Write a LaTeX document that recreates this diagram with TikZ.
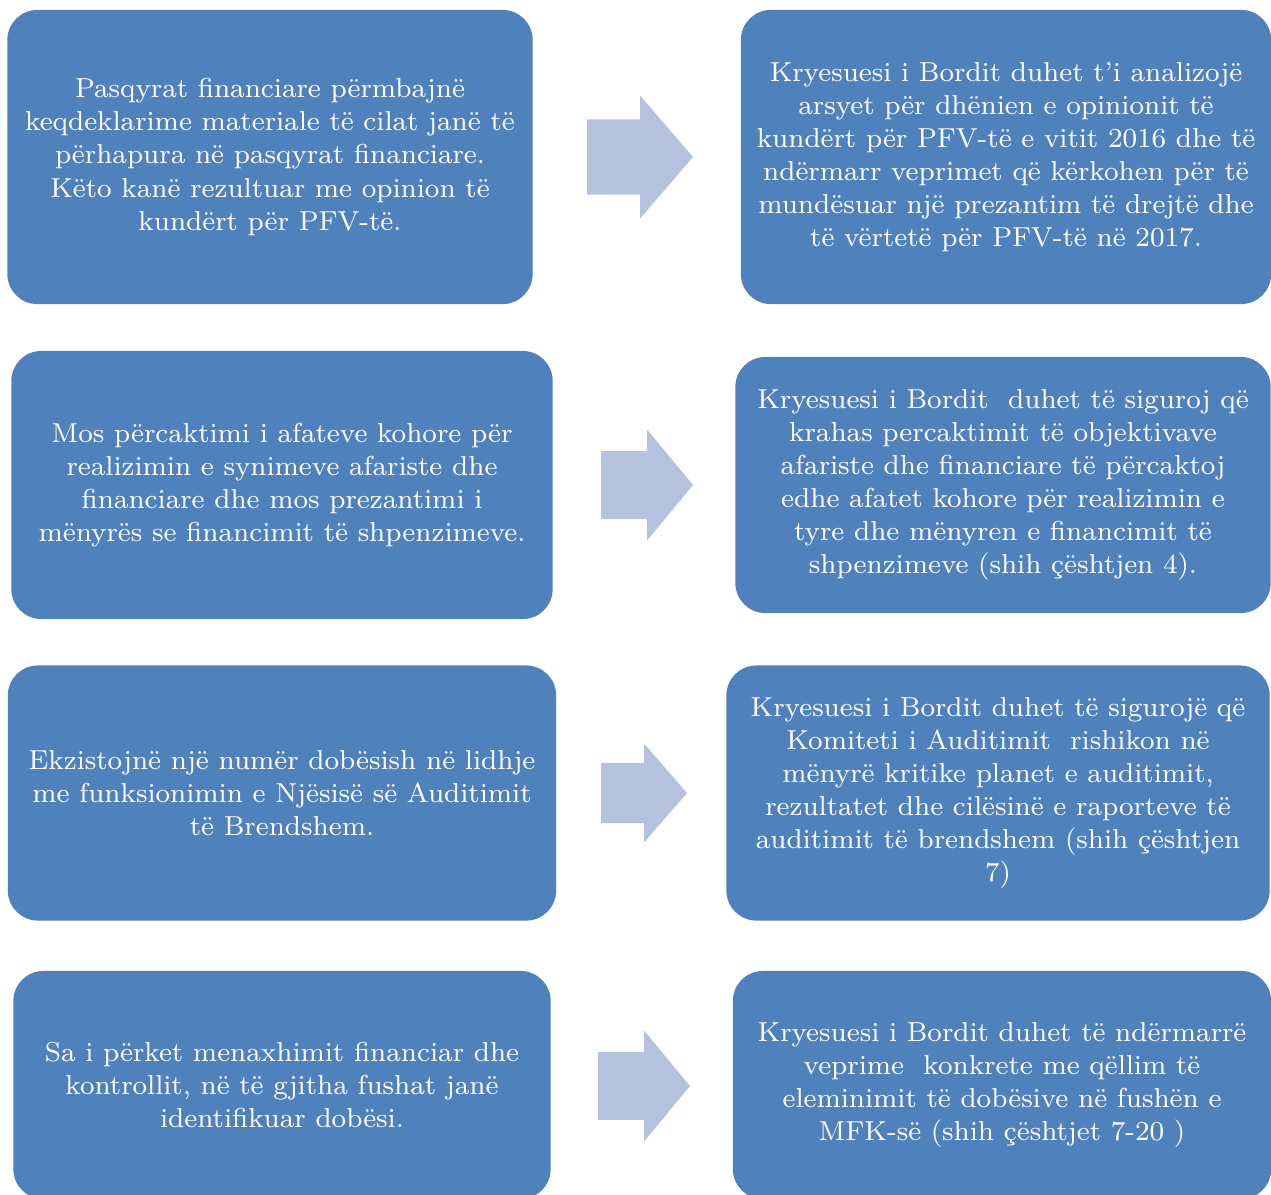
\documentclass[tikz,border=0pt]{standalone}
\usepackage{tikz}
\usetikzlibrary{positioning}
\definecolor{boxblue}{HTML}{4F81BD}
\definecolor{arrowblue}{HTML}{B4C2DE}

% block arrow: centre, length, height (in pixels of the picture)
\newcommand{\blockarrow}[4]{%
  \fill[arrowblue, shift={(#1,#2)}, xscale=#3/106, yscale=#4/123]
    (-53,-37.5) -- (0,-37.5) -- (0,-61.5) -- (53,0) -- (0,61.5) -- (0,37.5) -- (-53,37.5) -- cycle;}

\begin{document}
\begin{tikzpicture}[x=0.01cm, y=-0.01cm,
  findbox/.style 2 args = {fill=boxblue, rounded corners=3mm, text=white, align=center,
    inner sep=0pt, minimum width=#1, minimum height=#2,
    font=\fontsize{7.8}{9.39}\selectfont}]
\useasboundingbox (0,0) rectangle (1271,1194);
\clip (0,0) rectangle (1271,1194);

% first row
\node[findbox={5.25cm}{2.94cm}] (F1) at (270,157) {Pasqyrat financiare përmbajnë\\
  keqdeklarime materiale të cilat janë të\\ përhapura në pasqyrat financiare.\\
  Këto kanë rezultuar me opinion të\\ kundërt për PFV-të.};
\node[findbox={5.30cm}{2.94cm}] (R1) at (1006,157) {Kryesuesi i Bordit duhet t'i analizojë\\
  arsyet për dhënien e opinionit të\\ kundërt për PFV-të e vitit 2016 dhe të\\
  ndërmarr veprimet që kërkohen për të\\ mundësuar një prezantim të drejtë dhe\\
  të vërtetë për PFV-të në 2017.};
\blockarrow{640}{157}{106}{123}

% second row
\node[findbox={5.41cm}{2.68cm}] (F2) at (282,485) {Mos përcaktimi i afateve kohore për\\
  realizimin e synimeve afariste dhe\\ financiare dhe mos prezantimi i\\
  mënyrës se financimit të shpenzimeve.};
\node[findbox={5.35cm}{2.56cm}] (R2) at (1003,485) {Kryesuesi i Bordit \ duhet të siguroj që\\
  krahas percaktimit të objektivave\\ afariste dhe financiare të përcaktoj\\
  edhe afatet kohore për realizimin e\\ tyre dhe mënyren e financimit të\\
  shpenzimeve (shih çështjen 4).};
\blockarrow{647}{485}{92}{111}

% third row
\node[findbox={5.48cm}{2.55cm}] (F3) at (282,793) {Ekzistojnë një numër dobësish në lidhje\\
  me funksionimin e Njësisë së Auditimit\\ të Brendshem.};
\node[findbox={5.43cm}{2.55cm}] (R3) at (998,793) {Kryesuesi i Bordit duhet të sigurojë që\\
  Komiteti i Auditimit \ rishikon në\\ mënyrë kritike planet e auditimit,\\
  rezultatet dhe cilësinë e raporteve të\\ auditimit të brendshem (shih çështjen\\ 7)};
\blockarrow{644}{793}{86}{99}

% fourth row, cut by the page
\node[findbox={5.37cm}{2.28cm}] (F4) at (282,1085) {Sa i përket menaxhimit financiar dhe\\
  kontrollit, në të gjitha fushat janë\\ identifikuar dobësi.};
\node[findbox={5.38cm}{2.28cm}] (R4) at (1002,1085) {Kryesuesi i Bordit duhet të ndërmarrë\\
  veprime \ konkrete me qëllim të\\ eleminimit të dobësive në fushën e\\
  MFK-së (shih çështjet 7-20 )};
\blockarrow{644}{1086}{92}{111}
\end{tikzpicture}
\end{document}
